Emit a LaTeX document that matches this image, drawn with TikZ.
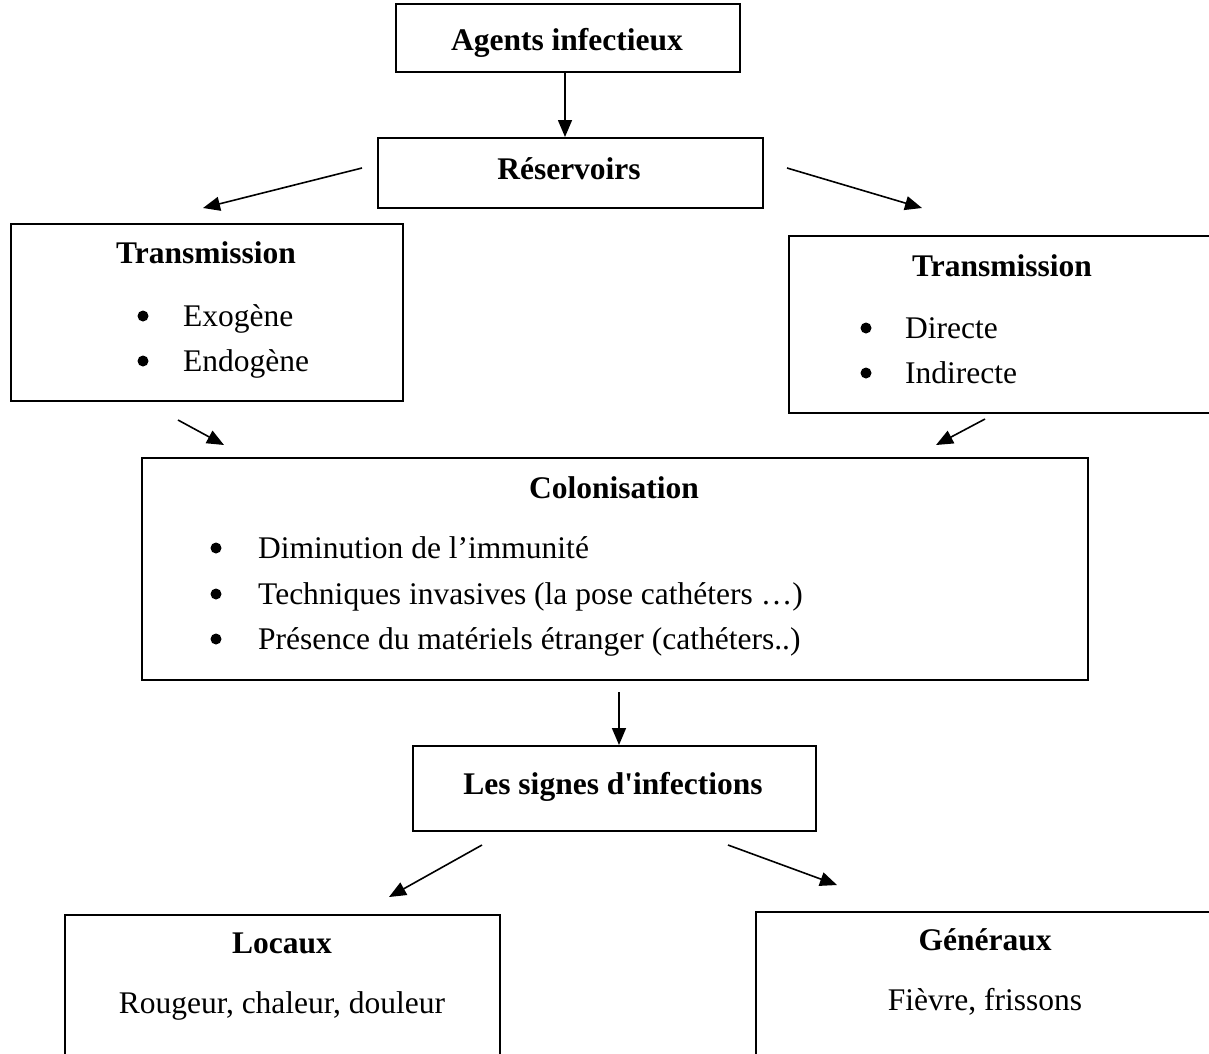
\documentclass[tikz,border=0pt]{standalone}
\usepackage{fontspec}
\setmainfont{Liberation Serif}[Ligatures=TeXOff]
\usetikzlibrary{arrows.meta}
\begin{document}
\begin{tikzpicture}[x=1pt,y=-1pt,
  box/.style={draw,line width=2pt,inner sep=0pt,anchor=north west},
  ttl/.style={anchor=base,font=\fontsize{31.5}{38}\selectfont\bfseries,inner sep=0pt},
  txt/.style={anchor=base,font=\fontsize{31.5}{38}\selectfont,inner sep=0pt},
  itm/.style={anchor=base west,font=\fontsize{31.5}{38}\selectfont,inner sep=0pt},
  bul/.style={circle,fill,inner sep=0pt,minimum size=11pt},
  arr/.style={line width=1.6pt,-{Triangle[length=17pt,width=14pt]}}]
\useasboundingbox (0,0) rectangle (1209,1053);
\clip (0,0) rectangle (1209,1053);
\fill[white] (0,0) rectangle (1209,1053);
% boxes
\node[box,minimum width=344pt,minimum height=68pt] (agents) at (395,3) {};
\node[box,minimum width=385pt,minimum height=70pt] (reserv) at (377,137) {};
\node[box,minimum width=392pt,minimum height=177pt] (transL) at (10,223) {};
\node[box,minimum width=450pt,minimum height=177pt] (transR) at (788,235) {};
\node[box,minimum width=946pt,minimum height=222pt] (colon) at (141,457) {};
\node[box,minimum width=403pt,minimum height=85pt] (signes) at (412,745) {};
\node[box,minimum width=435pt,minimum height=180pt] (locaux) at (64,914) {};
\node[box,minimum width=480pt,minimum height=180pt] (generaux) at (755,911) {};
% texts
\node[ttl] (tAgents) at (567,50) {Agents infectieux};
\node[ttl] (tReserv) at (569,179) {Réservoirs};
\node[ttl] (tTransL) at (206,263) {Transmission};
\node[bul] (bExo) at (143,316) {};
\node[itm] (iExo) at (183,326) {Exogène};
\node[bul] (bEndo) at (143,361) {};
\node[itm] (iEndo) at (183,371) {Endogène};
\node[ttl] (tTransR) at (1002,276) {Transmission};
\node[bul] (bDir) at (866,328) {};
\node[itm] (iDir) at (905,338) {Directe};
\node[bul] (bInd) at (866,373) {};
\node[itm] (iInd) at (905,383) {Indirecte};
\node[ttl] (tColon) at (614,498) {Colonisation};
\node[bul] (bDim) at (216,548) {};
\node[itm] (iDim) at (258,558) {Diminution de l’immunité};
\node[bul] (bTech) at (216,594) {};
\node[itm] (iTech) at (258,604) {Techniques invasives (la pose cathéters …)};
\node[bul] (bPres) at (216,639) {};
\node[itm] (iPres) at (258,649) {Présence du matériels étranger (cathéters..)};
\node[ttl] (tSignes) at (613,794) {Les signes d'infections};
\node[ttl] (tLocaux) at (282,953) {Locaux};
\node[txt] (tRougeur) at (282,1013) {Rougeur, chaleur, douleur};
\node[ttl] (tGeneraux) at (985,950) {Généraux};
\node[txt] (tFievre) at (985,1010) {Fièvre, frissons};
% connector end points
\coordinate (a1s) at (565,71);   \coordinate (a1e) at (565,137);
\coordinate (a2s) at (362,168);  \coordinate (a2e) at (203,208);
\coordinate (a3s) at (787,168);  \coordinate (a3e) at (922,208);
\coordinate (a4s) at (178,420);  \coordinate (a4e) at (224,445);
\coordinate (a5s) at (985,419);  \coordinate (a5e) at (936,445);
\coordinate (a6s) at (619,692);  \coordinate (a6e) at (619,745);
\coordinate (a7s) at (482,845);  \coordinate (a7e) at (389,897);
\coordinate (a8s) at (728,845);  \coordinate (a8e) at (837,885);
\draw[arr] (a1s) -- (a1e);
\draw[arr] (a2s) -- (a2e);
\draw[arr] (a3s) -- (a3e);
\draw[arr] (a4s) -- (a4e);
\draw[arr] (a5s) -- (a5e);
\draw[arr] (a6s) -- (a6e);
\draw[arr] (a7s) -- (a7e);
\draw[arr] (a8s) -- (a8e);
\end{tikzpicture}
\end{document}
